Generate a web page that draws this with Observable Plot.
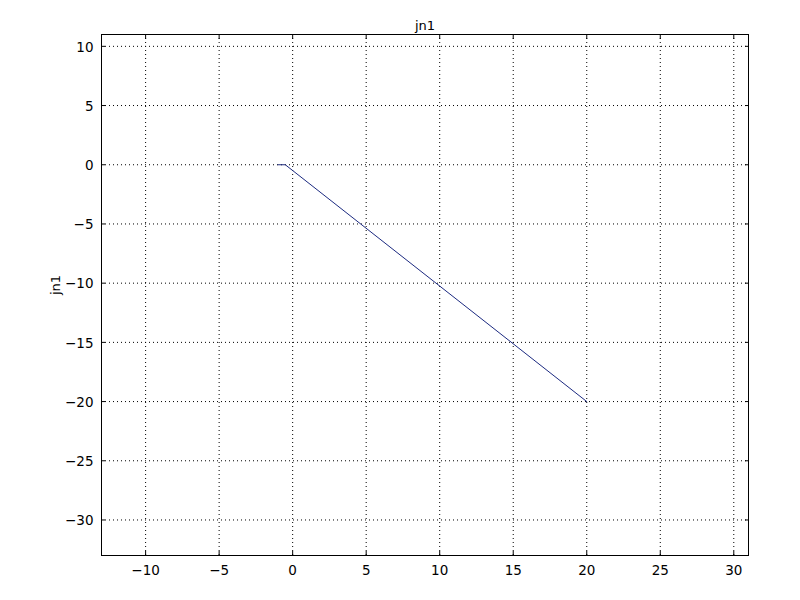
<!DOCTYPE html>
<html>
<head>
<meta charset="utf-8">
<script src="https://cdn.jsdelivr.net/npm/d3@7"></script>
<script src="https://cdn.jsdelivr.net/npm/@observablehq/plot@0.6"></script>
<style>
  html, body { margin: 0; padding: 0; background: #fff; }
  #chart svg { font-family: "DejaVu Sans", sans-serif; }
</style>
</head>
<body>
<div id="chart"></div>
<script>
const titleText = "jn1";
const yLabelText = "jn1";
const xValues = [-1, -0.5, 20];
const yValues = [0, 0, -20];
const xTicks = [-10, -5, 0, 5, 10, 15, 20, 25, 30];
const yTicks = [10, 5, 0, -5, -10, -15, -20, -25, -30];
const xDomain = [-13, 31];
const yDomain = [-33, 11];

const points = xValues.map((x, i) => ({x, y: yValues[i]}));
const grid = {stroke: "black", strokeOpacity: 1, strokeWidth: 1, strokeDasharray: "1,3"};
const blank = () => "";

const chart = Plot.plot({
  width: 800,
  height: 600,
  marginLeft: 101,
  marginRight: 52,
  marginTop: 34,
  marginBottom: 45,
  style: {fontFamily: "DejaVu Sans, sans-serif", fontSize: "13.5px", background: "white", color: "black"},
  x: {domain: xDomain, label: null},
  y: {domain: yDomain, label: null},
  marks: [
    Plot.gridX(xTicks, grid),
    Plot.gridY(yTicks, grid),
    Plot.axisX(xTicks, {anchor: "bottom", tickSize: 0, tickPadding: 10, label: null, fontSize: 13.5}),
    Plot.axisY(yTicks, {anchor: "left", tickSize: 0, tickPadding: 8, label: null, fontSize: 13.5, dy: 1}),
    Plot.axisX(xTicks, {anchor: "bottom", tickSize: 4, dy: -4, tickFormat: blank, label: null}),
    Plot.axisX(xTicks, {anchor: "top", tickSize: 4, dy: 4, tickFormat: blank, label: null}),
    Plot.axisY(yTicks, {anchor: "left", tickSize: 4, dx: 4, tickFormat: blank, label: null}),
    Plot.axisY(yTicks, {anchor: "right", tickSize: 4, dx: -4, tickFormat: blank, label: null}),
    Plot.line(points, {x: "x", y: "y", stroke: "#1c2a80", strokeWidth: 1}),
    Plot.frame({stroke: "black", strokeWidth: 1}),
    Plot.text([titleText], {frameAnchor: "top", dy: -14, fontSize: 13, fill: "black"}),
    Plot.text([yLabelText], {frameAnchor: "left", dx: -46, rotate: -90, fontSize: 13, fill: "black"})
  ]
});
document.getElementById("chart").appendChild(chart);
</script>
</body>
</html>
